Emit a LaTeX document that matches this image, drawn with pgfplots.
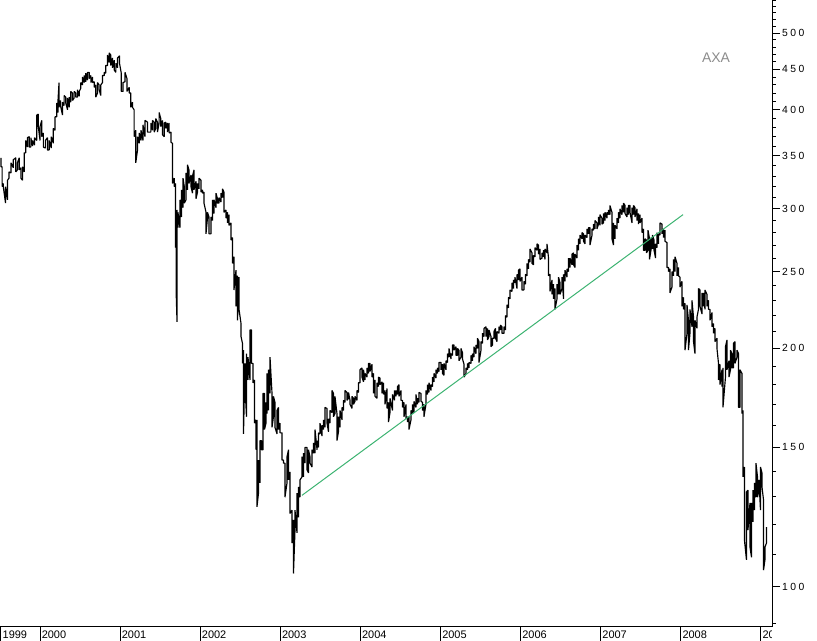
\documentclass[border=0pt]{standalone}
\usepackage{fontspec}
\setmainfont{Liberation Sans}
\usepackage{pgfplots}
\pgfplotsset{compat=1.18}
\definecolor{trendgreen}{HTML}{3CB371}
\definecolor{namegray}{HTML}{8C8C8C}
% spaced three-digit price labels
\newcommand\sd[3]{#1\kern2.5bp#2\kern2.5bp#3}
\begin{document}
\begin{tikzpicture}
  \begin{axis}[
      name=ax,
      scale only axis,
      width=772bp, height=627bp,
      xmin=1999.5, xmax=2009.138,
      ymode=log, ymin=89.03, ymax=550.4,
      axis x line*=bottom, axis y line*=right,
      axis line style={black, line width=1bp},
      tick align=outside,
      xtick={1999.512,2000,2001,2002,2003,2004,2005,2006,2007,2008,2009},
      xticklabels={1999,2000,2001,2002,2003,2004,2005,2006,2007,2008,2009},
      xtick style={black, line width=1bp, /pgfplots/major tick length=14bp},
      xticklabel style={font=\fontsize{11}{12}\selectfont, anchor=base west, inner sep=0pt, xshift=1.5bp, yshift=-4bp},
      ytick={100,150,200,250,300,350,400,450,500},
      yticklabels={\sd100,\sd150,\sd200,\sd250,\sd300,\sd350,\sd400,\sd450,\sd500},
      minor ytick={90,110,120,130,140,160,170,180,190,210,220,230,240,260,270,280,290,310,320,330,340,360,370,380,390,410,420,430,440,460,470,480,490,510,520,530,540,550},
      ytick style={black, line width=1bp},
      major tick length=8bp, minor tick length=4bp,
      yticklabel style={font=\fontsize{10.4}{12}\selectfont, anchor=west, inner sep=0pt, xshift=2bp},
    ]
    % weekly high/low bars, traced as one path
    \addplot[black, line width=1.15bp, line join=bevel, mark=none] coordinates {
      (1999.512,348)(1999.512,339) (1999.527,339)(1999.527,320) (1999.541,323)(1999.541,320)
      (1999.569,305)(1999.569,320) (1999.594,308)(1999.594,326) (1999.612,328)(1999.612,334)
      (1999.637,333)(1999.637,343) (1999.666,338)(1999.666,346) (1999.697,348)(1999.697,334)
      (1999.718,336)(1999.718,343) (1999.740,348)(1999.740,336) (1999.760,338)(1999.760,328)
      (1999.781,326)(1999.781,339) (1999.802,334)(1999.802,353) (1999.822,353)(1999.822,366)
      (1999.843,359)(1999.843,369) (1999.865,370)(1999.865,359) (1999.885,359)(1999.885,369)
      (1999.906,360)(1999.906,366) (1999.931,361)(1999.931,369) (1999.958,366)(1999.958,394)
      (1999.978,395)(1999.978,381) (2000.000,366)(2000.000,381) (2000.021,388)(2000.021,370)
      (2000.041,374)(2000.041,359) (2000.066,358)(2000.066,366) (2000.093,369)(2000.093,356)
      (2000.114,356)(2000.114,366) (2000.140,358)(2000.140,370) (2000.165,363)(2000.165,379)
      (2000.187,377)(2000.187,392) (2000.208,392)(2000.208,408) (2000.224,397)(2000.224,411)
      (2000.237,433)(2000.237,403) (2000.255,411)(2000.255,405) (2000.280,394)(2000.280,409)
      (2000.301,405)(2000.301,417) (2000.321,415)(2000.321,408) (2000.343,400)(2000.343,414)
      (2000.364,403)(2000.364,415) (2000.384,409)(2000.384,422) (2000.405,420)(2000.405,411)
      (2000.426,414)(2000.426,422) (2000.446,420)(2000.446,415) (2000.467,415)(2000.467,424)
      (2000.489,416)(2000.489,422) (2000.509,426)(2000.509,433) (2000.530,430)(2000.530,440)
      (2000.551,433)(2000.551,442) (2000.571,434)(2000.571,445) (2000.592,436)(2000.592,446)
      (2000.614,446)(2000.614,438) (2000.634,442)(2000.634,433) (2000.655,440)(2000.655,433)
      (2000.676,434)(2000.676,427) (2000.696,430)(2000.696,415) (2000.717,420)(2000.717,433)
      (2000.738,430)(2000.738,424) (2000.758,417)(2000.758,430) (2000.780,433)(2000.780,442)
      (2000.801,442)(2000.801,446) (2000.821,445)(2000.821,455) (2000.842,455)(2000.842,469)
      (2000.863,459)(2000.863,472) (2000.883,469)(2000.883,455) (2000.904,465)(2000.904,452)
      (2000.926,462)(2000.926,449) (2000.946,446)(2000.946,458) (2000.967,452)(2000.967,465)
      (2000.992,468)(2000.992,458) (2001.014,445)(2001.014,422) (2001.036,422)(2001.036,433)
      (2001.061,434)(2001.061,446) (2001.085,438)(2001.085,422) (2001.113,427)(2001.113,420)
      (2001.133,420)(2001.133,403) (2001.154,409)(2001.154,403) (2001.175,400)(2001.175,370)
      (2001.195,377)(2001.195,343) (2001.217,356)(2001.217,370) (2001.238,363)(2001.238,374)
      (2001.260,366)(2001.260,377) (2001.285,366)(2001.285,383) (2001.310,370)(2001.310,388)
      (2001.341,386)(2001.341,375) (2001.383,375)(2001.383,385) (2001.404,377)(2001.404,388)
      (2001.425,386)(2001.425,375) (2001.445,379)(2001.445,390) (2001.466,386)(2001.466,375)
      (2001.487,385)(2001.487,397) (2001.507,390)(2001.507,381) (2001.529,388)(2001.529,372)
      (2001.550,370)(2001.550,385) (2001.570,386)(2001.570,379) (2001.591,385)(2001.591,375)
      (2001.612,385)(2001.612,374) (2001.635,375)(2001.635,364) (2001.653,363)(2001.653,323)
      (2001.675,328)(2001.675,320) (2001.691,323)(2001.691,268) (2001.701,290)(2001.701,232)
      (2001.710,216)(2001.710,299) (2001.722,284)(2001.722,297) (2001.747,284)(2001.747,308)
      (2001.766,293)(2001.766,317) (2001.785,301)(2001.785,328) (2001.801,320)(2001.801,305)
      (2001.822,308)(2001.822,333) (2001.841,317)(2001.841,341) (2001.859,336)(2001.859,323)
      (2001.884,331)(2001.884,320) (2001.903,314)(2001.903,330) (2001.922,336)(2001.922,317)
      (2001.947,325)(2001.947,309) (2001.966,315)(2001.966,323) (2001.984,318)(2001.984,328)
      (2002.009,326)(2002.009,315) (2002.028,317)(2002.028,314) (2002.047,315)(2002.047,305)
      (2002.072,297)(2002.072,279) (2002.090,292)(2002.090,297) (2002.109,293)(2002.109,279)
      (2002.134,279)(2002.134,293) (2002.153,290)(2002.153,308) (2002.172,296)(2002.172,308)
      (2002.197,301)(2002.197,314) (2002.215,309)(2002.215,305) (2002.234,305)(2002.234,310)
      (2002.259,306)(2002.259,314) (2002.278,310)(2002.278,318) (2002.296,315)(2002.296,297)
      (2002.321,299)(2002.321,292) (2002.340,297)(2002.340,288) (2002.359,295)(2002.359,286)
      (2002.384,288)(2002.384,274) (2002.403,276)(2002.403,256) (2002.421,261)(2002.421,237)
      (2002.446,251)(2002.446,226) (2002.465,247)(2002.465,217) (2002.484,246)(2002.484,224)
      (2002.509,215)(2002.509,207) (2002.527,203)(2002.527,191.5) (2002.540,199)(2002.540,156)
      (2002.559,191.5)(2002.559,179) (2002.577,164)(2002.577,197) (2002.596,182.5)(2002.596,195)
      (2002.621,182.5)(2002.621,211) (2002.640,211)(2002.640,191.5) (2002.658,191.5)(2002.658,181)
      (2002.677,182.5)(2002.677,161) (2002.696,162.5)(2002.696,149) (2002.708,162.5)(2002.708,126.2)
      (2002.727,131.3)(2002.727,144.6) (2002.746,135.3)(2002.746,153) (2002.765,153)(2002.765,149)
      (2002.783,149)(2002.783,175.5) (2002.802,175.5)(2002.802,158) (2002.821,161)(2002.821,171)
      (2002.833,165.5)(2002.833,186) (2002.852,167)(2002.852,188) (2002.871,175.5)(2002.871,195)
      (2002.896,175.5)(2002.896,159) (2002.914,164)(2002.914,174) (2002.933,171)(2002.933,159)
      (2002.958,156)(2002.958,167) (2002.977,168.5)(2002.977,158) (2002.996,161)(2002.996,156.5)
      (2003.021,156.5)(2003.021,144.6) (2003.039,144.6)(2003.039,143.3) (2003.058,143.3)(2003.058,129.8)
      (2003.083,135.3)(2003.083,146) (2003.102,149)(2003.102,136.5) (2003.120,139.7)(2003.120,123.8)
      (2003.145,125)(2003.145,113.6) (2003.164,121.5)(2003.164,104) (2003.183,118)(2003.183,125)
      (2003.208,117)(2003.208,131.3) (2003.226,122.4)(2003.226,133.7) (2003.245,129.8)(2003.245,136.5)
      (2003.270,137.7)(2003.270,146) (2003.289,137.7)(2003.289,147.5) (2003.308,143.3)(2003.308,150)
      (2003.333,150)(2003.333,140.5) (2003.351,139.3)(2003.351,149) (2003.370,146)(2003.370,143.3)
      (2003.395,141.7)(2003.395,149) (2003.414,147.5)(2003.414,152) (2003.433,147.5)(2003.433,158)
      (2003.458,149)(2003.458,153) (2003.476,150)(2003.476,156.5) (2003.495,156)(2003.495,161)
      (2003.520,155)(2003.520,160) (2003.539,158)(2003.539,162.5) (2003.557,159)(2003.557,168.5)
      (2003.582,168)(2003.582,161) (2003.601,157)(2003.601,163) (2003.620,161)(2003.620,167)
      (2003.645,166)(2003.645,177) (2003.663,175.5)(2003.663,164) (2003.682,165.5)(2003.682,174)
      (2003.707,165.5)(2003.707,153) (2003.726,157)(2003.726,164) (2003.745,159)(2003.745,167)
      (2003.770,162.5)(2003.770,168.5) (2003.788,167)(2003.788,172) (2003.807,171)(2003.807,177)
      (2003.832,176)(2003.832,172) (2003.851,173)(2003.851,176) (2003.870,172)(2003.870,170)
      (2003.894,168)(2003.894,174) (2003.913,173)(2003.913,170) (2003.932,171.5)(2003.932,174)
      (2003.957,172)(2003.957,177) (2003.976,176)(2003.976,181) (2003.994,181)(2003.994,188)
      (2004.019,189)(2004.019,184) (2004.038,181.5)(2004.038,188) (2004.057,182.5)(2004.057,186)
      (2004.082,184)(2004.082,189) (2004.100,186)(2004.100,191.5) (2004.119,191.5)(2004.119,187)
      (2004.144,191)(2004.144,184) (2004.163,186)(2004.163,175.5) (2004.182,182.5)(2004.182,174)
      (2004.207,173)(2004.207,181) (2004.225,179)(2004.225,184) (2004.244,183.5)(2004.244,180)
      (2004.269,181.5)(2004.269,175.5) (2004.288,181)(2004.288,175) (2004.307,177)(2004.307,170)
      (2004.332,178)(2004.332,168) (2004.350,171)(2004.350,161.5) (2004.369,166)(2004.369,173)
      (2004.400,167)(2004.400,175) (2004.425,172)(2004.425,177) (2004.444,174)(2004.444,177)
      (2004.463,175)(2004.463,179) (2004.481,180)(2004.481,174) (2004.506,177)(2004.506,172)
      (2004.525,172)(2004.525,168.5) (2004.544,171)(2004.544,164) (2004.569,170)(2004.569,163)
      (2004.587,164)(2004.587,161.5) (2004.606,164)(2004.606,158) (2004.631,162.5)(2004.631,167)
      (2004.650,165.5)(2004.650,170) (2004.668,166)(2004.668,171.5) (2004.693,168.5)(2004.693,175)
      (2004.712,170)(2004.712,173) (2004.731,171)(2004.731,176) (2004.756,175.5)(2004.756,171.5)
      (2004.775,171)(2004.775,167) (2004.793,170)(2004.793,164) (2004.818,170)(2004.818,177)
      (2004.837,175)(2004.837,180) (2004.856,176)(2004.856,181) (2004.881,177)(2004.881,180)
      (2004.900,179)(2004.900,184) (2004.918,181.5)(2004.918,186) (2004.943,183.5)(2004.943,188)
      (2004.962,186)(2004.962,189) (2004.981,187)(2004.981,192) (2005.006,192)(2005.006,188)
      (2005.024,191)(2005.024,186) (2005.043,185)(2005.043,191.5) (2005.068,188)(2005.068,193)
      (2005.087,192)(2005.087,197) (2005.106,195)(2005.106,200) (2005.130,194)(2005.130,197)
      (2005.149,196)(2005.149,202) (2005.168,202)(2005.168,199) (2005.193,201)(2005.193,196)
      (2005.212,196)(2005.212,200) (2005.230,199)(2005.230,193) (2005.255,195)(2005.255,200)
      (2005.274,197.5)(2005.274,194) (2005.293,191)(2005.293,184) (2005.318,186)(2005.318,189)
      (2005.336,188)(2005.336,191.5) (2005.355,189)(2005.355,192) (2005.380,191.5)(2005.380,196)
      (2005.399,193)(2005.399,197) (2005.417,195)(2005.417,201) (2005.442,197)(2005.442,202)
      (2005.461,200)(2005.461,206) (2005.480,204)(2005.480,192) (2005.505,199)(2005.505,204)
      (2005.524,203)(2005.524,209) (2005.543,207)(2005.543,212) (2005.567,213)(2005.567,207)
      (2005.586,212)(2005.586,205) (2005.605,207)(2005.605,211) (2005.630,207)(2005.630,201)
      (2005.649,202)(2005.649,206) (2005.667,206)(2005.667,210) (2005.686,212)(2005.686,206)
      (2005.705,204)(2005.705,210) (2005.730,209)(2005.730,213) (2005.748,211)(2005.748,214)
      (2005.767,213)(2005.767,209) (2005.792,209)(2005.792,213) (2005.811,211)(2005.811,220)
      (2005.829,219)(2005.829,227) (2005.848,225)(2005.848,232) (2005.867,231)(2005.867,237)
      (2005.892,236)(2005.892,242) (2005.911,238)(2005.911,244) (2005.929,242)(2005.929,246)
      (2005.954,238)(2005.954,248) (2005.973,244)(2005.973,251) (2005.992,252)(2005.992,243)
      (2006.017,246)(2006.017,237) (2006.041,237)(2006.041,243) (2006.060,241)(2006.060,248)
      (2006.079,247)(2006.079,256) (2006.098,252)(2006.098,259) (2006.117,257)(2006.117,267)
      (2006.142,264)(2006.142,256) (2006.161,255)(2006.161,262) (2006.179,261)(2006.179,268)
      (2006.204,266)(2006.204,271) (2006.223,270)(2006.223,263) (2006.242,267)(2006.242,259)
      (2006.267,260)(2006.267,264) (2006.285,261)(2006.285,266) (2006.304,259)(2006.304,267)
      (2006.329,264)(2006.329,271) (2006.348,260)(2006.348,247) (2006.367,248)(2006.367,236)
      (2006.391,244)(2006.391,234) (2006.410,241)(2006.410,231) (2006.429,238)(2006.429,224)
      (2006.454,231)(2006.454,241) (2006.473,234)(2006.473,246) (2006.492,242)(2006.492,234)
      (2006.516,238)(2006.516,246) (2006.535,231)(2006.535,248) (2006.554,243)(2006.554,251)
      (2006.579,246)(2006.579,252) (2006.597,250)(2006.597,260) (2006.616,253)(2006.616,260)
      (2006.641,255)(2006.641,263) (2006.660,264)(2006.660,255) (2006.679,253)(2006.679,263)
      (2006.704,260)(2006.704,270) (2006.722,266)(2006.722,275) (2006.741,271)(2006.741,278)
      (2006.766,275)(2006.766,280) (2006.785,279)(2006.785,273) (2006.803,271)(2006.803,278)
      (2006.828,276)(2006.828,283) (2006.847,279)(2006.847,284) (2006.866,284)(2006.866,270)
      (2006.891,278)(2006.891,283) (2006.909,282)(2006.909,287) (2006.928,283)(2006.928,290)
      (2006.953,288)(2006.953,283) (2006.972,287)(2006.972,293) (2006.990,286)(2006.990,295)
      (2007.015,292)(2007.015,287) (2007.034,288)(2007.034,296) (2007.053,290)(2007.053,297)
      (2007.078,292)(2007.078,297) (2007.096,295)(2007.096,299) (2007.115,295)(2007.115,303)
      (2007.140,297)(2007.140,275) (2007.159,270)(2007.159,288) (2007.178,275)(2007.178,286)
      (2007.203,283)(2007.203,292) (2007.221,288)(2007.221,297) (2007.240,292)(2007.240,300)
      (2007.265,295)(2007.265,303) (2007.284,297)(2007.284,305) (2007.303,303)(2007.303,296)
      (2007.327,293)(2007.327,301) (2007.346,295)(2007.346,303) (2007.365,303)(2007.365,297)
      (2007.390,288)(2007.390,301) (2007.409,295)(2007.409,303) (2007.428,301)(2007.428,293)
      (2007.453,300)(2007.453,290) (2007.471,296)(2007.471,287) (2007.490,295)(2007.490,288)
      (2007.515,292)(2007.515,280) (2007.534,283)(2007.534,266) (2007.553,266)(2007.553,275)
      (2007.571,274)(2007.571,264) (2007.590,266)(2007.590,282) (2007.609,275)(2007.609,259)
      (2007.627,266)(2007.627,276) (2007.646,267)(2007.646,278) (2007.665,274)(2007.665,266)
      (2007.684,260)(2007.684,271) (2007.702,268)(2007.702,280) (2007.721,271)(2007.721,279)
      (2007.740,278)(2007.740,288) (2007.765,287)(2007.765,279) (2007.783,283)(2007.783,276)
      (2007.802,282)(2007.802,273) (2007.827,272)(2007.827,253) (2007.846,253)(2007.846,250)
      (2007.864,252)(2007.864,235) (2007.889,239)(2007.889,250) (2007.908,247)(2007.908,259)
      (2007.927,250)(2007.927,261) (2007.952,256)(2007.952,247) (2007.971,253)(2007.971,247)
      (2007.989,246)(2007.989,239) (2008.014,243)(2008.014,226) (2008.033,232)(2008.033,224)
      (2008.052,228)(2008.052,199) (2008.077,209)(2008.077,227) (2008.095,217)(2008.095,199)
      (2008.114,209)(2008.114,224) (2008.139,213)(2008.139,230) (2008.158,219)(2008.158,204)
      (2008.176,197)(2008.176,217) (2008.201,212)(2008.201,219) (2008.220,224)(2008.220,238)
      (2008.239,237)(2008.239,226) (2008.264,221)(2008.264,235) (2008.283,226)(2008.283,235)
      (2008.301,224)(2008.301,237) (2008.326,234)(2008.326,226) (2008.345,230)(2008.345,224)
      (2008.364,224)(2008.364,217) (2008.389,222)(2008.389,213) (2008.407,215)(2008.407,209)
      (2008.426,212)(2008.426,204) (2008.451,206)(2008.451,200) (2008.470,191.5)(2008.470,182.5)
      (2008.489,191)(2008.489,180) (2008.513,188)(2008.513,179) (2008.526,189)(2008.526,168.5)
      (2008.557,184)(2008.557,201) (2008.576,205)(2008.576,188) (2008.601,193)(2008.601,184)
      (2008.620,188)(2008.620,199) (2008.638,197)(2008.638,189) (2008.657,189)(2008.657,203)
      (2008.676,204)(2008.676,191.5) (2008.701,195)(2008.701,199) (2008.720,197)(2008.720,168.5)
      (2008.738,168.5)(2008.738,188) (2008.763,186)(2008.763,165.5) (2008.776,167)(2008.776,137.7)
      (2008.794,141.7)(2008.794,114.6) (2008.819,108.2)(2008.819,131.8) (2008.838,132.5)(2008.838,118)
      (2008.863,127.7)(2008.863,112.3) (2008.882,109)(2008.882,127.7) (2008.900,120.8)(2008.900,132.5)
      (2008.919,125)(2008.919,135.3) (2008.938,129.8)(2008.938,143.3) (2008.957,137.7)(2008.957,129.8)
      (2008.975,132.5)(2008.975,136.5) (2008.994,125)(2008.994,141.7) (2009.013,139.3)(2009.013,133.7)
      (2009.032,128.8)(2009.032,105) (2009.050,108.2)(2009.050,112.3) (2009.069,113.6)(2009.069,119)
    };
    % trend line
    \addplot[trendgreen, line width=1bp, mark=none] coordinates {(2003.270,130.5)(2008.027,295)};
    \node[namegray, font=\fontsize{14}{16}\selectfont] at (axis cs:2008.439,466) {AXA};
  \end{axis}
  % the last year label is cut off at the right edge of the plot
  \fill[white] ([xshift=-0.5bp, yshift=-0.6bp]ax.south east) rectangle ++(46bp,-15bp);
  \pgfresetboundingbox
  \path (ax.south west) ++(0,-14bp) rectangle ([xshift=45bp]ax.north east);
\end{tikzpicture}
\end{document}
